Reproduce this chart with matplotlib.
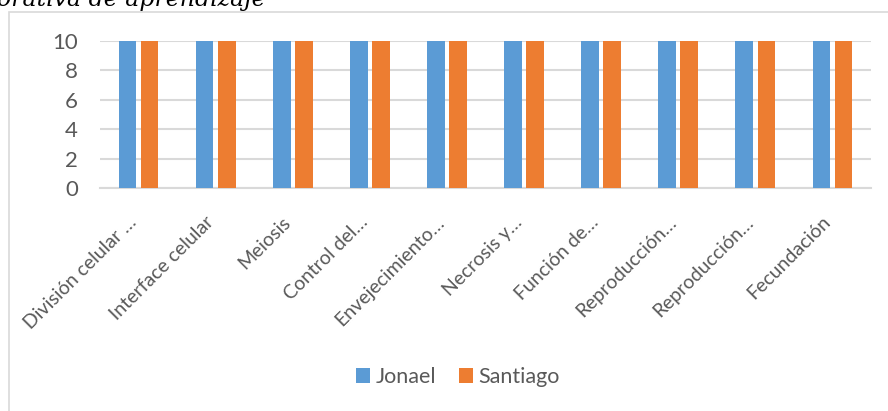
import matplotlib
matplotlib.use("Agg")
import matplotlib.pyplot as plt
import matplotlib.transforms as mtransforms
import numpy as np
from matplotlib.patches import Rectangle

categories = ["División celular …", "Interface celular", "Meiosis", "Control del…",
              "Envejecimiento…", "Necrosis y…", "Función de…", "Reproducción…",
              "Reproducción…", "Fecundación"]
jonael = [10, 10, 10, 10, 10, 10, 10, 10, 10, 10]
santiago = [10, 10, 10, 10, 10, 10, 10, 10, 10, 10]
yticks = [0, 2, 4, 6, 8, 10]
series_names = ["Jonael", "Santiago"]
colors = ["#5B9BD5", "#ED7D31"]

plt.rcParams['font.family'] = ['Lato', 'DejaVu Sans']
W, H = 888, 411
fig = plt.figure(figsize=(W / 100, H / 100), dpi=100)

# chart border
fig.patches.append(Rectangle((8.5 / W, -0.1), 1.2, 1.1 - 12 / H, transform=fig.transFigure,
                             fill=False, edgecolor="#D9D9D9", linewidth=1.2))

# cut-off caption at top
fig.text(-3 / W, 1 - 6 / H, "orativa de aprendizaje", fontsize=17, style="italic",
         family="DejaVu Serif", color="black", va="baseline", ha="left")

left, right = 100 / W, 871 / W
top, bottom = 1 - 41 / H, 1 - 188 / H
ax = fig.add_axes([left, bottom, right - left, top - bottom])

x = np.arange(len(categories))
w = 0.23
off = 0.143
ax.bar(x - off, jonael, w, color=colors[0], label=series_names[0], zorder=3)
ax.bar(x + off, santiago, w, color=colors[1], label=series_names[1], zorder=3)

ax.set_xlim(-0.5, len(categories) - 0.5)
ax.set_ylim(0, 10)
ax.set_yticks(yticks)
ax.yaxis.grid(True, color="#D9D9D9", linewidth=1.5, zorder=0)
ax.set_axisbelow(True)
for s in ["top", "right", "left"]:
    ax.spines[s].set_visible(False)
ax.spines["bottom"].set_color("#D9D9D9")
ax.spines["bottom"].set_linewidth(1.5)
ax.tick_params(axis="both", length=0, colors="#595959")
ax.tick_params(axis="y", labelsize=16, pad=16)
ax.set_xticks(x)
ax.set_xticklabels(categories, rotation=45, ha="right", va="center",
                   rotation_mode="anchor", fontsize=14, color="#595959")
ax.tick_params(axis="x", pad=16)
shift = mtransforms.ScaledTranslation(-5 / 100, -9 / 100, fig.dpi_scale_trans)
for lbl in ax.get_xticklabels():
    lbl.set_transform(lbl.get_transform() + shift)

leg = fig.legend(loc="center", bbox_to_anchor=(458 / W, 1 - 377 / H), ncol=2,
                 frameon=False, fontsize=15.5, handlelength=0.65, handleheight=0.65,
                 handletextpad=0.25, columnspacing=1.1, labelcolor="#595959")

fig.savefig("out.png", dpi=100)
